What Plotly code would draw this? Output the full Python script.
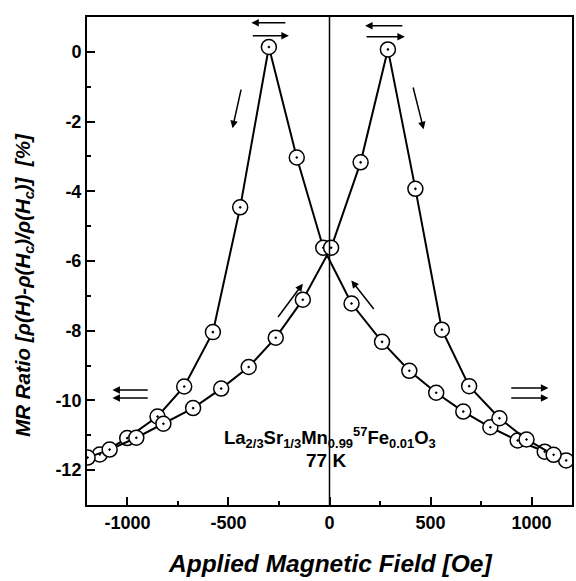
import plotly.graph_objects as go

# Sweep 1: field decreasing from +1200 Oe to -1200 Oe
h_down = [1171, 1065, 931, 796, 662, 528, 395, 260, 109, -31, -162, -300, -442, -577, -719, -851, -1001, -1137]
mr_down = [-11.72, -11.47, -11.15, -10.77, -10.32, -9.78, -9.15, -8.32, -7.22, -5.62, -3.03, 0.14, -4.46, -8.04, -9.60, -10.46, -11.08, -11.55]

# Sweep 2: field increasing from -1200 Oe to +1200 Oe
h_up = [-1197, -1088, -956, -822, -675, -536, -400, -266, -132, 8, 154, 289, 425, 556, 691, 841, 975, 1109]
mr_up = [-11.64, -11.41, -11.07, -10.67, -10.22, -9.66, -9.04, -8.20, -7.11, -5.62, -3.17, 0.07, -3.93, -7.97, -9.59, -10.51, -11.12, -11.56]

x_ticks = [-1000, -500, 0, 500, 1000]
y_ticks = [0, -2, -4, -6, -8, -10, -12]

# arrows: (head_x, head_y, tail_x, tail_y)
arrows = [
    (-387, 0.835, -211, 0.835),
    (-201, 0.46, -387, 0.46),
    (176, 0.75, 368, 0.75),
    (373, 0.43, 176, 0.43),
    (-480, -2.19, -436, -1.04),
    (466, -2.22, 412, -0.98),
    (-132, -6.65, -260, -7.65),
    (108, -6.56, 225, -7.42),
    (-1074, -9.70, -892, -9.70),
    (-1074, -9.93, -892, -9.93),
    (1083, -9.64, 892, -9.64),
    (1083, -9.93, 892, -9.93),
]

FONT = "Liberation Sans"

fig = go.Figure()
for hx, my in [(h_down, mr_down), (h_up, mr_up)]:
    fig.add_trace(go.Scatter(
        x=hx, y=my, mode="lines+markers",
        line=dict(color="black", width=2),
        marker=dict(symbol="circle-dot", size=15, color="white",
                    line=dict(color="black", width=1.5)),
        showlegend=False,
    ))

fig.add_shape(type="line", x0=0, x1=0, y0=0, y1=1, xref="x", yref="paper",
              line=dict(color="black", width=1.5))

annotations = []
for hx, hy, tx, ty in arrows:
    annotations.append(dict(x=hx, y=hy, ax=tx, ay=ty, xref="x", yref="y",
                            axref="x", ayref="y", text="", showarrow=True,
                            arrowhead=2, arrowsize=1, arrowwidth=1.5,
                            arrowcolor="black", standoff=0, startstandoff=0))

annotations.append(dict(
    x=0, y=-11.06, xref="x", yref="y", showarrow=False,
    text="<b>La<sub>2/3</sub>Sr<sub>1/3</sub>Mn<sub>0.99</sub><sup>57</sup>Fe<sub>0.01</sub>O<sub>3</sub></b>",
    font=dict(family=FONT, size=18.5, color="black")))
annotations.append(dict(
    x=-15, y=-11.72, xref="x", yref="y", showarrow=False,
    text="<b>77 K</b>", font=dict(family=FONT, size=19, color="black")))
annotations.append(dict(
    x=-0.129, y=0.452, xref="paper", yref="paper", showarrow=False,
    xanchor="center", yanchor="middle", textangle=-90,
    text="<b><i>MR Ratio [ρ(H)-ρ(H<sub>c</sub>)/ρ(H<sub>c</sub>)]  [%]</i></b>",
    font=dict(family=FONT, size=20.5, color="black")))
annotations.append(dict(
    x=0.502, y=-0.119, xref="paper", yref="paper", showarrow=False,
    xanchor="center", yanchor="middle",
    text="<b><i>Applied Magnetic Field [Oe]</i></b>",
    font=dict(family=FONT, size=24.5, color="black")))

fig.update_layout(
    width=576, height=581,
    margin=dict(l=87, r=2, t=17, b=76),
    paper_bgcolor="white", plot_bgcolor="white",
    annotations=annotations,
    xaxis=dict(range=[-1200, 1200], tickvals=x_ticks, ticktext=[str(v) for v in x_ticks],
               ticks="inside", ticklen=8, tickwidth=1.5, tickcolor="black",
               minor=dict(ticks="inside", ticklen=4, tickwidth=1.5, dtick=250, tickcolor="black"),
               showline=True, linecolor="black", linewidth=2, mirror=True,
               showgrid=False, zeroline=False,
               tickfont=dict(family=FONT, size=18, color="black", weight="bold")),
    yaxis=dict(range=[-13, 1], tickvals=y_ticks, ticktext=[str(v) for v in y_ticks],
               ticks="inside", ticklen=8, tickwidth=1.5, tickcolor="black",
               minor=dict(ticks="inside", ticklen=4, tickwidth=1.5, dtick=1, tickcolor="black"),
               showline=True, linecolor="black", linewidth=2, mirror=True,
               showgrid=False, zeroline=False,
               tickfont=dict(family=FONT, size=18, color="black", weight="bold")),
)

fig.write_html("out.html")
